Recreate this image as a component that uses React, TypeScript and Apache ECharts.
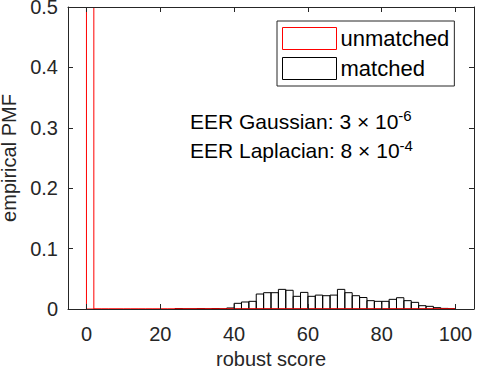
import React, { useEffect, useRef } from "react";
import * as echarts from "echarts";

const binWidth = 2;
const matchedBinStarts = [24, 26, 28, 30, 32, 34, 36, 38, 40, 42, 44, 46, 48, 50, 52, 54, 56, 58, 60, 62, 64, 66, 68, 70, 72, 74, 76, 78, 80, 82, 84, 86, 88, 90, 92, 94, 96, 98];
const matchedPMF = [0.0008, 0, 0, 0.0008, 0, 0.0008, 0, 0.0017, 0.0094, 0.0116, 0.0127, 0.0248, 0.027, 0.027, 0.0325, 0.031, 0.021, 0.0275, 0.021, 0.023, 0.022, 0.023, 0.0325, 0.027, 0.022, 0.019, 0.0138, 0.0127, 0.0127, 0.016, 0.0187, 0.0138, 0.011, 0.0055, 0.0044, 0.0022, 0.001, 0.0005];
const unmatchedBinStarts = [0, 2, 4, 6, 8, 10, 12, 14, 16, 18, 20, 22, 24, 26, 28, 30, 32, 34, 36, 38, 40, 42, 44, 46, 48, 50, 52, 54, 56, 58, 60, 62, 64, 66, 68, 70, 72, 74, 76, 78, 80, 82, 84, 86, 88, 90, 92, 94, 96, 98];
const unmatchedPMF = [0.5, 0, 0, 0, 0, 0, 0, 0, 0, 0, 0, 0, 0, 0, 0, 0, 0, 0, 0, 0, 0, 0, 0, 0, 0, 0, 0, 0, 0, 0, 0, 0, 0, 0, 0, 0, 0, 0, 0, 0, 0, 0, 0, 0, 0, 0, 0, 0, 0, 0];
const xTicks = [0, 20, 40, 60, 80, 100];
const yTickInterval = 0.1;
const seriesNames = ["unmatched", "matched"];
const eerLines = [
  { label: "EER Gaussian: 3 × 10", exp: "-6" },
  { label: "EER Laplacian: 8 × 10", exp: "-4" },
];

const FONT = "'Liberation Sans', Arial, Helvetica, sans-serif";
const AX = "#262626";
const RED = "#ff0000";

function binRender(color: string) {
  return (params: any, api: any) => {
    const x0 = api.value(0);
    const x1 = api.value(1);
    const h = api.value(2);
    const p0 = api.coord([x0, h]);
    const p1 = api.coord([x1, 0]);
    return {
      type: "rect",
      shape: { x: p0[0], y: p0[1], width: p1[0] - p0[0], height: p1[1] - p0[1] },
      style: { fill: "none", stroke: color, lineWidth: 1 },
    };
  };
}

export default function App() {
  const ref = useRef<HTMLDivElement>(null);
  useEffect(() => {
    document.body.style.margin = "0";
    const chart = echarts.init(ref.current!, null, { renderer: "svg" });
    const matchedData = matchedBinStarts.map((s, i) => [s, s + binWidth, matchedPMF[i]]);
    const unmatchedData = unmatchedBinStarts.map((s, i) => [s, s + binWidth, unmatchedPMF[i]]);
    const axisCommonX = {
      type: "value",
      min: -5,
      max: 105,
      z: 10,
      splitLine: { show: false },
      axisLine: { show: true, onZero: false, lineStyle: { color: AX, width: 1 } },
      axisTick: { show: true, inside: true, length: 5, customValues: xTicks, lineStyle: { color: AX } },
    };
    const axisCommonY = {
      type: "value",
      min: 0,
      max: 0.5,
      z: 10,
      interval: yTickInterval,
      splitLine: { show: false },
      axisLine: { show: true, onZero: false, lineStyle: { color: AX, width: 1 } },
      axisTick: { show: true, inside: true, length: 5, lineStyle: { color: AX } },
    };
    chart.setOption({
      animation: false,
      backgroundColor: "#fff",
      grid: { left: 68, top: 7, width: 406, height: 302, containLabel: false, outerBoundsMode: "none" },
      xAxis: [
        {
          ...axisCommonX,
          position: "bottom",
          name: "robust score",
          nameLocation: "middle",
          nameGap: 34,
          nameTextStyle: { fontSize: 20, color: AX, fontFamily: FONT },
          axisLabel: { customValues: xTicks, margin: 15, fontSize: 20, color: AX, fontFamily: FONT },
        },
        { ...axisCommonX, position: "top", axisLabel: { show: false } },
      ],
      yAxis: [
        {
          ...axisCommonY,
          position: "left",
          name: "empirical PMF",
          nameLocation: "middle",
          nameGap: 46,
          nameTextStyle: { fontSize: 20, color: AX, fontFamily: FONT },
          axisLabel: {
            margin: 10,
            fontSize: 20,
            color: AX,
            fontFamily: FONT,
            formatter: (v: number) => (v === 0 ? "0" : String(Math.round(v * 10) / 10)),
          },
        },
        { ...axisCommonY, position: "right", axisLabel: { show: false } },
      ],
      legend: {
        left: 277,
        top: 21,
        z: 20,
        orient: "vertical",
        padding: [6, 5, 6, 5],
        itemGap: 7,
        itemWidth: 54,
        itemHeight: 22,
        borderColor: AX,
        borderWidth: 1,
        backgroundColor: "#fff",
        textStyle: { fontSize: 22, color: "#000", fontFamily: FONT, padding: [0, 0, 0, -1] },
        data: [
          { name: seriesNames[0], icon: "rect", itemStyle: { color: "#fff", borderColor: RED, borderWidth: 1 } },
          { name: seriesNames[1], icon: "rect", itemStyle: { color: "#fff", borderColor: "#000", borderWidth: 1 } },
        ],
      },
      series: [
        {
          type: "custom",
          name: seriesNames[1],
          renderItem: binRender("#000"),
          data: matchedData,
          encode: { x: [0, 1], y: 2 },
          clip: true,
          z: 2,
          itemStyle: { color: "#fff", borderColor: "#000", borderWidth: 1 },
        },
        {
          type: "custom",
          name: seriesNames[0],
          renderItem: binRender(RED),
          data: unmatchedData,
          encode: { x: [0, 1], y: 2 },
          clip: true,
          z: 3,
          itemStyle: { color: "#fff", borderColor: RED, borderWidth: 1 },
        },
      ],
      graphic: eerLines.map((l, i) => ({
        type: "text",
        left: 190,
        top: 108 + i * 29.5,
        z: 10,
        style: {
          text: `{m|${l.label}}{s|${l.exp}}`,
          rich: {
            m: { fontSize: 21, lineHeight: 26, fontFamily: FONT, fill: "#000" },
            s: { fontSize: 15, lineHeight: 15, verticalAlign: "top", fontFamily: FONT, fill: "#000" },
          },
        },
      })),
    });
    return () => chart.dispose();
  }, []);
  return <div ref={ref} style={{ width: 478, height: 375 }} />;
}
